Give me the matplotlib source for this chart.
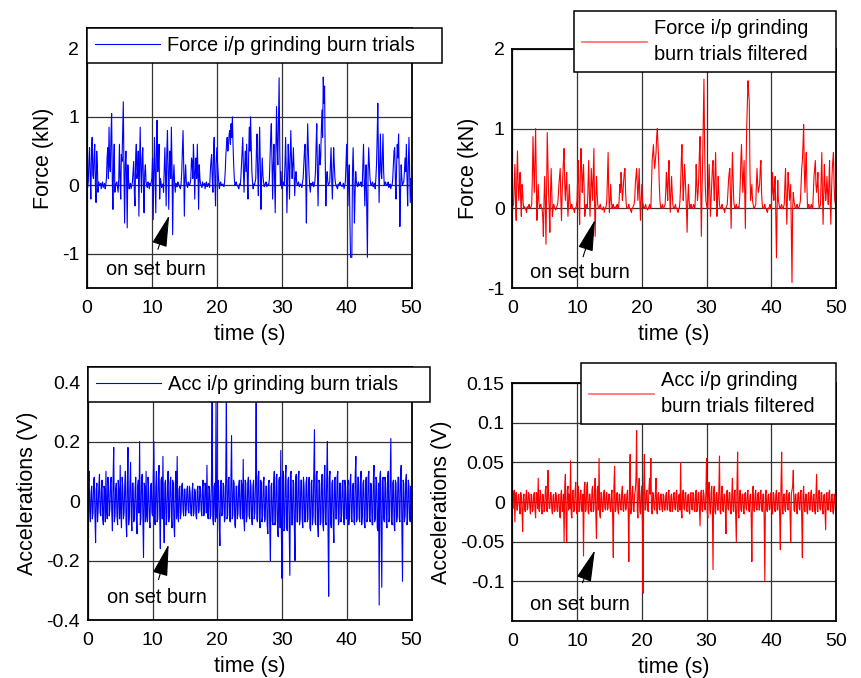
import numpy as np
import matplotlib
matplotlib.use("Agg")
import matplotlib.pyplot as plt

plt.rcParams['font.family'] = ['Liberation Sans', 'DejaVu Sans']
plt.rcParams['font.size'] = 14
plt.rcParams['axes.unicode_minus'] = False

# samples every 0.1 s over the 50 s trial (one row per second)
time = np.linspace(0, 50, 501)

force_raw = [
    0.0, -0.03, 0.05, 0.35, 0.55, 0.1, -0.2, 0.5, 0.7, 0.15,
    0.1, 0.45, 0.6, 0.0, -0.25, 0.5, 0.3, -0.1, 0.05, 0.0,
    0.0, 0.03, -0.05, 0.02, 0.05, -0.03, 0.0, 0.03, -0.05, 0.0,
    0.1, 0.4, 0.55, 0.1, 0.85, 0.3, 0.2, 0.75, 1.05, 0.1,
    -0.35, 0.3, 0.6, -0.1, 0.0, 0.03, 0.05, -0.02, -0.1, 0.1,
    0.6, 0.1, -0.2, 0.45, 0.35, 0.8, 1.22, 0.2, -0.55, 0.3,
    0.5, 0.1, -0.62, 0.3, 0.1, -0.05, 0.0, 0.03, -0.05, 0.0,
    0.05, 0.2, 0.35, -0.1, -0.3, 0.4, 0.6, 0.1, 0.2, 0.5,
    -0.45, 0.3, 0.85, 0.2, -0.1, 0.4, 0.55, 0.0, -0.4, 0.2,
    0.3, 0.05, 0.0, -0.03, 0.05, 0.02, -0.05, 0.03, 0.0, 0.05,
    0.1, 0.4, -0.5, 0.2, 0.7, 0.1, -0.4, 0.5, 0.95, 0.2,
    0.3, 0.6, -0.2, 0.1, 0.05, -0.03, 0.0, 0.02, -0.1, 0.2,
    0.55, 0.1, -0.3, 0.5, 0.8, 0.2, -0.35, 0.3, 0.5, 0.1,
    0.85, 0.3, -0.72, 0.1, 0.3, 0.05, -0.1, 0.03, 0.0, -0.02,
    0.05, 0.02, 0.0, -0.03, -0.05, 0.03, 0.2, 0.5, 0.8, 0.3,
    -0.45, 0.1, 0.3, 0.05, 0.0, -0.03, 0.05, 0.02, 0.0, 0.03,
    0.1, 0.4, 0.35, 0.1, 0.6, 0.3, -0.2, 0.2, 0.4, 0.1,
    0.6, 0.2, -0.35, 0.3, 0.1, 0.02, 0.0, -0.03, 0.05, 0.0,
    0.0, 0.03, -0.05, 0.02, 0.05, -0.02, 0.0, 0.03, 0.0, -0.03,
    0.2, 0.35, 0.45, 0.1, -0.1, 0.5, 0.7, 0.1, -0.3, 0.3,
    0.55, 0.35, 0.2, 0.05, -0.05, 0.03, 0.05, 0.0, 0.0, 0.02,
    0.0, -0.02, 0.05, 0.2, 0.45, 0.6, 0.7, 0.5, 0.6, 0.75,
    0.8, 0.6, 0.9, 0.7, 1.0, 0.6, 0.3, 0.1, 0.0, 0.03,
    0.05, 0.0, 0.0, -0.03, -0.05, 0.02, 0.0, 0.1, 0.3, 0.5,
    0.7, 0.2, -0.1, 0.3, 0.5, 0.2, 0.6, 0.1, -0.2, 0.4,
    0.85, 0.5, 1.0, 0.6, 0.2, 0.05, -0.05, 0.02, 0.0, 0.05,
    0.1, 0.5, 0.75, 0.2, -0.15, 0.4, 0.85, 0.3, -0.35, 0.1,
    0.4, 0.15, 0.05, -0.02, 0.0, 0.03, 0.05, -0.02, 0.0, 0.02,
    0.0, 0.1, 0.4, 0.7, 0.9, 0.3, -0.2, 0.3, 0.6, 0.1,
    -0.4, 0.5, 1.15, 0.6, 0.3, 0.9, 1.57, 0.5, 0.0, 0.2,
    -0.05, 0.0, 0.05, 0.02, 0.0, 0.3, 0.7, 0.2, -0.4, 0.1,
    0.6, 0.3, -0.2, 0.4, 0.8, 0.4, 0.1, 0.3, 0.55, 0.2,
    -0.15, 0.1, 0.2, 0.05, 0.0, 0.03, 0.05, -0.02, 0.0, 0.02,
    0.0, -0.03, 0.05, 0.1, 0.3, 0.5, 0.6, 0.1, -0.55, 0.4,
    0.9, 0.5, 0.2, 0.0, -0.1, 0.03, 0.0, 0.02, 0.05, -0.02,
    0.0, 0.05, 0.2, 0.6, 0.9, 0.2, -0.3, 0.3, 0.6, 0.3,
    0.4, 0.8, 1.1, 0.7, 1.58, 1.2, 1.45, 0.4, -0.3, 0.1,
    0.2, 0.05, 0.0, 0.03, 0.05, 0.3, 0.55, 0.1, -0.2, 0.2,
    0.55, 0.3, 0.1, 0.02, 0.0, -0.03, -0.05, 0.02, 0.0, 0.03,
    0.05, 0.0, 0.0, -0.02, 0.0, 0.03, -0.05, 0.0, 0.05, 0.3,
    0.6, 0.2, -0.3, 0.1, 0.3, -0.5, -1.05, -1.05, -1.05, 0.2,
    0.55, 0.1, -0.55, -0.1, 0.2, 0.05, 0.0, -0.02, 0.05, 0.0,
    0.0, 0.03, 0.05, -0.02, 0.0, 0.3, 0.6, 0.1, -0.3, 0.1,
    0.3, -0.4, -1.05, 0.2, 0.55, 0.3, 0.1, 0.02, 0.0, 0.03,
    0.05, -0.02, 0.0, 0.03, -0.05, 0.1, 0.3, 0.7, 1.2, 0.4,
    -0.25, 0.3, 0.75, 0.2, 0.1, 0.4, 0.75, 0.2, 0.0, 0.03,
    0.05, 0.0, 0.0, 0.02, 0.05, -0.03, 0.0, 0.02, -0.05, 0.0,
    0.0, 0.1, 0.3, 0.5, 0.55, 0.1, -0.2, 0.3, 0.6, 0.4,
    0.75, 0.2, -0.6, -0.1, 0.3, 0.1, 0.0, 0.03, 0.05, 0.2,
    0.4, 0.2, 0.6, 0.1, -0.3, 0.3, 0.7, 0.2, -0.25, 0.1,
    0.0,
]

force_filtered = [
    0.0, 0.03, 0.05, 0.3, 0.55, 0.1, -0.15, 0.4, 0.72, 0.3,
    0.1, 0.3, 0.45, 0.1, -0.1, 0.3, 0.2, 0.05, 0.0, 0.02,
    0.0, -0.02, -0.05, 0.02, 0.0, 0.03, 0.05, 0.0, 0.0, 0.02,
    0.05, 0.4, 0.9, 0.5, 0.2, 0.6, 1.0, 0.4, -0.15, 0.1,
    0.3, 0.1, 0.0, 0.03, 0.05, 0.0, 0.0, -0.1, -0.35, 0.1,
    0.4, 0.1, -0.45, 0.3, 0.95, 0.6, 0.2, 0.0, -0.3, 0.2,
    0.5, 0.2, -0.1, 0.0, 0.05, 0.02, 0.0, -0.02, 0.0, 0.03,
    0.05, 0.15, 0.3, 0.4, 0.5, 0.1, -0.15, 0.2, 0.4, 0.6,
    0.75, 0.3, 0.1, 0.3, 0.45, 0.1, -0.1, 0.1, 0.3, 0.1,
    0.0, 0.03, 0.05, 0.0, 0.0, -0.02, -0.05, 0.0, 0.0, 0.03,
    0.1, 0.4, 0.6, 0.1, -0.2, 0.4, 0.75, 0.5, 0.2, 0.4,
    0.55, 0.2, -0.1, 0.0, 0.05, 0.02, 0.0, 0.3, 0.6, 0.2,
    -0.1, 0.2, 0.5, 0.3, 0.1, 0.4, 0.75, 0.1, -0.35, 0.1,
    0.4, 0.2, 0.05, 0.0, 0.0, 0.03, 0.05, 0.0, 0.0, -0.02,
    0.0, 0.02, -0.05, 0.0, 0.0, 0.03, 0.1, 0.4, 0.7, 0.2,
    -0.05, 0.1, 0.3, 0.1, 0.0, 0.02, 0.05, 0.0, 0.0, 0.02,
    0.0, 0.03, 0.05, 0.0, 0.0, 0.1, 0.3, 0.2, 0.45, 0.3,
    0.1, 0.2, 0.35, 0.45, 0.5, 0.2, 0.05, 0.0, 0.0, 0.02,
    0.05, 0.0, 0.0, -0.03, -0.05, 0.0, 0.0, 0.03, 0.05, 0.1,
    0.3, 0.4, 0.5, 0.3, 0.1, 0.3, 0.5, 0.1, -0.15, 0.1,
    0.3, 0.1, 0.05, 0.0, 0.0, 0.03, 0.05, 0.0, 0.0, -0.02,
    0.0, 0.02, 0.05, 0.0, 0.0, 0.3, 0.6, 0.7, 0.8, 0.6,
    0.5, 0.6, 0.7, 0.9, 1.0, 0.8, 0.6, 0.3, 0.1, 0.02,
    0.0, 0.03, 0.05, 0.0, 0.0, 0.03, 0.05, 0.2, 0.45, 0.3,
    0.1, 0.4, 0.6, 0.2, -0.05, 0.2, 0.4, 0.2, 0.05, 0.0,
    0.0, 0.02, 0.05, 0.0, 0.0, -0.03, -0.05, 0.0, 0.0, 0.1,
    0.3, 0.6, 0.8, 0.4, 0.1, 0.3, 0.55, 0.4, 0.2, 0.0,
    -0.3, 0.1, 0.3, 0.1, 0.0, 0.02, 0.05, 0.0, 0.0, 0.02,
    0.05, 0.02, 0.0, 0.2, 0.55, 0.3, 0.1, 0.2, 0.4, 0.7,
    0.9, 0.3, -0.35, 0.2, 0.6, 1.1, 1.62, 0.8, 0.3, 0.1,
    0.05, 0.0, 0.0, 0.3, 0.55, 0.2, -0.1, 0.1, 0.3, 0.5,
    0.6, 0.3, 0.1, 0.4, 0.7, 0.3, -0.1, 0.1, 0.4, 0.2,
    0.05, 0.0, 0.0, 0.02, 0.05, 0.0, 0.0, -0.02, -0.05, 0.0,
    0.0, 0.03, 0.05, 0.2, 0.35, 0.45, 0.5, 0.1, -0.25, 0.3,
    0.7, 0.4, 0.1, 0.03, 0.0, 0.02, 0.05, 0.0, 0.0, 0.02,
    0.0, 0.1, 0.3, 0.6, 0.8, 0.5, 0.2, 0.4, 0.6, 0.2,
    -0.25, 0.5, 1.0, 1.3, 1.6, 1.45, 1.35, 0.5, 0.1, 0.2,
    0.3, 0.1, 0.05, 0.0, 0.0, 0.03, 0.05, 0.3, 0.5, 0.3,
    0.2, 0.25, 0.3, 0.5, 0.6, 0.2, 0.05, 0.0, 0.0, 0.02,
    0.05, 0.0, 0.0, -0.03, -0.05, 0.0, 0.0, 0.02, 0.05, 0.0,
    0.0, 0.2, 0.45, 0.2, 0.1, 0.3, 0.4, -0.1, -0.62, 0.0,
    0.35, 0.1, 0.05, 0.0, 0.0, 0.03, 0.05, 0.0, 0.0, 0.02,
    0.05, 0.3, 0.5, 0.1, -0.2, 0.2, 0.45, 0.3, 0.1, 0.2,
    0.3, -0.3, -0.93, 0.0, 0.2, 0.1, 0.05, 0.0, 0.0, 0.03,
    0.05, 0.0, 0.0, 0.02, 0.05, 0.1, 0.3, 0.5, 0.6, 0.8,
    1.05, 0.5, 0.2, 0.5, 0.7, 0.3, 0.0, 0.02, 0.05, 0.0,
    0.0, 0.03, 0.05, 0.0, 0.0, 0.2, 0.4, 0.5, 0.6, 0.3,
    0.2, 0.3, 0.45, 0.1, 0.0, 0.02, 0.05, 0.4, 0.7, 0.2,
    -0.2, 0.2, 0.55, 0.3, 0.1, 0.2, 0.4, 0.2, 0.05, 0.3,
    0.6, 0.1, -0.2, 0.2, 0.45, 0.6, 0.7, 0.3, 0.1, 0.05,
    0.0,
]

acc_raw = [
    0.0, 0.06, 0.1, -0.04, -0.07, 0.03, 0.05, -0.06, -0.04, 0.07,
    0.08, -0.05, -0.14, 0.04, 0.06, -0.07, -0.03, 0.05, 0.09, -0.04,
    -0.05, 0.04, 0.07, -0.06, -0.08, 0.05, 0.04, -0.07, 0.1, -0.03,
    -0.06, 0.08, 0.05, -0.05, -0.03, 0.06, 0.08, -0.04, -0.1, 0.07,
    0.18, -0.07, -0.05, 0.04, 0.06, -0.05, -0.08, 0.07, 0.03, -0.06,
    0.12, -0.04, -0.09, 0.08, 0.05, -0.06, -0.04, 0.05, 0.1, -0.07,
    -0.12, 0.06, 0.18, -0.08, -0.06, 0.05, 0.13, -0.04, -0.1, 0.06,
    0.06, -0.07, -0.05, 0.04, 0.08, -0.06, -0.11, 0.05, 0.07, -0.04,
    0.2, -0.08, -0.06, 0.07, 0.09, -0.05, -0.19, 0.06, 0.05, -0.07,
    0.1, -0.05, -0.07, 0.08, 0.04, -0.06, -0.09, 0.05, 0.06, -0.04,
    -0.05, 0.07, 0.2, -0.06, -0.08, 0.05, 0.1, -0.07, -0.06, 0.08,
    0.12, -0.05, -0.16, 0.07, 0.08, -0.06, 0.15, -0.05, -0.14, 0.06,
    0.07, -0.08, -0.06, 0.05, 0.1, -0.07, -0.05, 0.06, 0.08, -0.05,
    -0.09, 0.07, 0.06, -0.08, -0.12, 0.05, 0.1, -0.06, 0.15, -0.05,
    -0.07, 0.04, 0.05, -0.06, -0.04, 0.05, 0.06, -0.03, -0.05, 0.04,
    0.04, -0.05, -0.03, 0.04, 0.05, -0.03, -0.04, 0.05, 0.03, -0.04,
    -0.05, 0.03, 0.06, -0.05, -0.04, 0.04, 0.03, -0.05, -0.06, 0.04,
    0.05, -0.04, -0.03, 0.05, 0.04, -0.03, -0.05, 0.04, 0.07, -0.05,
    -0.04, 0.06, 0.05, -0.04, 0.12, -0.05, -0.06, 0.05, 0.04, -0.06,
    -0.05, 0.08, 0.35, -0.06, -0.08, 0.05, 0.06, -0.07, 0.33, -0.05,
    -0.06, 0.07, 0.05, -0.08, -0.15, 0.06, 0.07, -0.05, -0.04, 0.06,
    0.05, -0.07, -0.06, 0.08, 0.33, -0.06, -0.05, 0.07, 0.08, -0.06,
    -0.07, 0.08, 0.22, -0.06, -0.05, 0.07, 0.06, -0.08, -0.09, 0.05,
    0.05, -0.06, -0.04, 0.05, 0.07, -0.05, -0.06, 0.07, 0.05, -0.06,
    0.14, -0.06, -0.1, 0.07, 0.06, -0.07, -0.05, 0.06, 0.08, -0.05,
    -0.06, 0.07, 0.05, -0.06, -0.08, 0.05, 0.07, -0.06, -0.04, 0.06,
    0.33, -0.06, -0.07, 0.08, 0.1, -0.06, -0.09, 0.07, 0.06, -0.07,
    -0.05, 0.06, 0.08, -0.07, -0.06, 0.05, 0.05, -0.08, -0.11, 0.06,
    0.07, -0.09, -0.2, 0.05, 0.06, -0.07, -0.08, 0.06, 0.1, -0.08,
    -0.07, 0.08, 0.09, -0.1, -0.12, 0.07, 0.08, -0.09, 0.17, -0.12,
    -0.26, 0.08, 0.1, -0.1, -0.09, 0.08, 0.12, -0.09, -0.1, 0.07,
    0.08, -0.1, -0.25, 0.09, 0.1, -0.08, -0.08, 0.07, 0.06, -0.09,
    -0.2, 0.08, 0.09, -0.07, -0.07, 0.08, 0.1, -0.08, -0.06, 0.07,
    0.07, -0.06, -0.09, 0.08, 0.05, -0.07, -0.07, 0.06, 0.08, -0.07,
    -0.06, 0.07, 0.08, -0.09, -0.1, 0.06, 0.07, -0.08, -0.05, 0.09,
    0.24, -0.07, -0.08, 0.09, 0.1, -0.08, -0.12, 0.07, 0.06, -0.08,
    -0.07, 0.08, 0.09, -0.08, -0.1, 0.07, 0.12, -0.07, -0.08, 0.09,
    0.2, -0.1, -0.32, 0.08, 0.1, -0.07, -0.09, 0.06, 0.07, -0.08,
    -0.14, 0.07, 0.08, -0.06, -0.06, 0.08, 0.1, -0.08, -0.07, 0.06,
    0.06, -0.07, -0.05, 0.06, 0.07, -0.06, -0.08, 0.07, 0.05, -0.06,
    -0.06, 0.05, 0.07, -0.08, -0.05, 0.06, 0.09, -0.06, -0.07, 0.05,
    0.06, -0.07, -0.08, 0.09, 0.15, -0.07, -0.06, 0.08, 0.08, -0.06,
    -0.07, 0.06, 0.1, -0.08, -0.05, 0.06, 0.07, -0.07, -0.09, 0.06,
    0.08, -0.07, -0.06, 0.08, 0.1, -0.06, -0.07, 0.06, 0.05, -0.08,
    -0.08, 0.07, 0.12, -0.07, -0.06, 0.08, 0.07, -0.09, -0.1, 0.06,
    -0.35, 0.08, 0.1, -0.1, -0.29, 0.07, 0.08, -0.06, -0.07, 0.08,
    0.06, -0.07, -0.09, 0.08, 0.1, -0.07, -0.06, 0.08, 0.21, -0.07,
    -0.08, 0.06, 0.07, -0.08, -0.1, 0.07, 0.06, -0.07, -0.05, 0.08,
    0.08, -0.06, -0.07, 0.09, 0.12, -0.08, -0.27, 0.07, 0.06, -0.07,
    -0.05, 0.07, 0.09, -0.08, -0.06, 0.07, 0.05, -0.06, -0.07, 0.05,
    0.0,
]

acc_filtered = [
    0.0, -0.008, 0.01, 0.015, -0.025, 0.005, 0.012, -0.01, -0.01, 0.008,
    0.01, -0.005, -0.015, 0.012, 0.008, -0.01, -0.037, 0.005, 0.01, -0.008,
    -0.012, 0.008, 0.015, -0.01, -0.008, 0.012, 0.01, -0.006, -0.015, 0.01,
    0.008, -0.012, -0.01, 0.008, 0.012, -0.01, -0.02, 0.012, 0.01, -0.008,
    0.03, -0.01, -0.012, 0.015, 0.01, -0.008, -0.015, 0.01, 0.008, -0.012,
    -0.01, 0.015, 0.02, -0.01, -0.012, 0.04, 0.01, -0.008, -0.008, 0.012,
    0.012, -0.01, -0.015, 0.008, 0.01, -0.012, -0.01, 0.012, 0.008, -0.01,
    -0.012, 0.008, 0.01, -0.015, -0.02, 0.01, 0.015, -0.012, -0.01, 0.01,
    -0.05, 0.02, 0.035, -0.02, -0.05, 0.015, 0.02, -0.01, 0.01, -0.008,
    0.052, -0.015, -0.02, 0.012, 0.015, -0.012, -0.01, 0.015, 0.025, -0.01,
    -0.015, 0.01, 0.02, -0.012, -0.01, 0.012, 0.015, -0.01, -0.012, 0.01,
    -0.068, 0.015, 0.025, -0.012, -0.01, 0.02, 0.025, -0.012, -0.015, 0.01,
    0.01, -0.01, -0.012, 0.015, 0.02, -0.012, -0.01, 0.015, 0.03, -0.015,
    -0.046, 0.015, 0.02, -0.01, 0.055, -0.015, -0.02, 0.012, 0.01, -0.01,
    -0.012, 0.01, 0.015, -0.008, -0.01, 0.01, 0.012, -0.01, -0.008, 0.01,
    0.01, -0.008, -0.012, 0.01, 0.015, -0.02, -0.07, 0.02, 0.045, -0.012,
    -0.01, 0.008, 0.012, -0.01, -0.015, 0.01, 0.01, -0.008, -0.01, 0.012,
    0.02, -0.01, -0.012, 0.008, 0.01, -0.01, -0.008, 0.01, 0.015, -0.012,
    -0.075, 0.02, 0.06, -0.015, -0.01, 0.012, 0.02, -0.01, -0.012, 0.01,
    0.015, 0.03, 0.09, -0.01, -0.02, 0.015, 0.03, -0.012, -0.015, 0.012,
    0.02, -0.03, -0.115, 0.02, 0.06, -0.01, -0.01, 0.012, 0.015, -0.01,
    -0.012, 0.015, 0.03, 0.01, 0.055, -0.01, -0.015, 0.012, 0.01, -0.008,
    -0.01, 0.012, 0.03, -0.01, -0.015, 0.01, 0.012, -0.008, -0.01, 0.01,
    0.01, -0.008, -0.012, 0.01, 0.008, -0.01, -0.01, 0.008, 0.012, -0.01,
    -0.01, 0.012, 0.015, -0.01, -0.012, 0.008, 0.01, -0.012, -0.008, 0.01,
    0.012, -0.008, -0.01, 0.012, 0.015, -0.01, -0.012, 0.008, 0.01, -0.01,
    0.05, -0.012, -0.02, 0.01, 0.015, -0.008, -0.01, 0.012, 0.012, -0.01,
    -0.012, 0.008, 0.01, -0.012, -0.015, 0.01, 0.012, -0.008, -0.01, 0.012,
    0.01, -0.01, -0.012, 0.01, 0.015, -0.012, -0.01, 0.01, 0.012, -0.01,
    -0.03, 0.01, 0.015, -0.01, -0.012, 0.015, 0.01, -0.008, -0.01, 0.012,
    0.055, -0.012, -0.02, 0.015, 0.025, -0.01, -0.015, 0.012, 0.02, -0.012,
    -0.085, 0.015, 0.02, -0.012, -0.015, 0.01, 0.012, -0.01, -0.01, 0.015,
    0.058, -0.012, -0.015, 0.01, 0.02, -0.01, -0.012, 0.01, 0.01, -0.01,
    -0.04, 0.012, 0.015, -0.008, -0.01, 0.012, 0.012, -0.01, -0.015, 0.01,
    0.03, -0.01, -0.012, 0.012, 0.015, -0.02, -0.05, 0.02, 0.063, -0.012,
    -0.02, 0.012, 0.015, -0.01, -0.012, 0.01, 0.01, -0.012, -0.015, 0.01,
    0.012, -0.008, -0.01, 0.012, 0.015, -0.01, -0.012, 0.008, 0.01, -0.02,
    -0.075, 0.015, 0.02, -0.01, -0.012, 0.01, 0.015, -0.008, -0.01, 0.01,
    0.012, -0.01, -0.01, 0.012, 0.015, -0.008, -0.012, 0.01, 0.01, -0.02,
    -0.1, 0.01, 0.015, -0.01, -0.012, 0.008, 0.01, -0.01, -0.008, 0.01,
    0.012, -0.01, -0.015, 0.012, 0.01, -0.008, -0.012, 0.01, 0.015, -0.01,
    -0.01, 0.01, 0.012, -0.02, -0.06, 0.02, 0.063, -0.01, -0.015, 0.01,
    0.01, -0.01, -0.012, 0.01, 0.015, -0.008, -0.01, 0.01, 0.012, -0.015,
    -0.05, 0.01, 0.015, 0.02, 0.04, -0.01, -0.012, 0.01, 0.01, -0.01,
    -0.015, 0.01, 0.012, -0.008, -0.01, 0.012, 0.015, -0.02, -0.07, 0.01,
    0.02, -0.01, -0.012, 0.01, 0.01, -0.012, -0.015, 0.01, 0.012, -0.01,
    -0.01, 0.012, 0.015, -0.01, -0.012, 0.008, 0.01, -0.01, -0.015, 0.012,
    0.035, -0.01, -0.012, 0.01, 0.015, -0.008, -0.01, 0.012, 0.012, -0.01,
    -0.015, 0.008, 0.01, -0.012, -0.035, 0.01, 0.012, -0.01, -0.01, 0.012,
    0.015, -0.01, -0.012, 0.008, 0.01, -0.012, -0.015, 0.01, 0.008, -0.01,
    0.0,
]

force_ticks = [-1, 0, 1, 2]
acc_raw_ticks = [-0.4, -0.2, 0, 0.2, 0.4]
acc_filt_ticks = [-0.1, -0.05, 0, 0.05, 0.1, 0.15]

fig = plt.figure(figsize=(8.61, 6.78), dpi=100)
ax1 = fig.add_axes([0.101, 0.575, 0.377, 0.384])
ax2 = fig.add_axes([0.595, 0.575, 0.376, 0.353])
ax3 = fig.add_axes([0.102, 0.0855, 0.376, 0.373])
ax4 = fig.add_axes([0.595, 0.084, 0.376, 0.351])


def style(ax, yticks, ylim, ylabel):
    ax.set_xlim(0, 50)
    ax.set_ylim(*ylim)
    ax.set_xticks([0, 10, 20, 30, 40, 50])
    ax.set_yticks(yticks)
    ax.set_yticklabels(['%g' % v for v in yticks])
    ax.grid(True, color='#333333', lw=0.9)
    ax.tick_params(length=0, labelsize=14)
    ax.tick_params(axis='x', pad=8.5)
    ax.tick_params(axis='y', pad=5.5)
    for s in ax.spines.values():
        s.set_linewidth(1.3)
    ax.set_xlabel('time (s)', fontsize=15.5, labelpad=5)
    ax.set_ylabel(ylabel, fontsize=15.5, labelpad=6)


def burn_arrow(ax, tip, tail, txt):
    ax.annotate('', xy=tip, xytext=tail,
                arrowprops=dict(arrowstyle='-|>,head_length=1.0,head_width=0.24',
                                color='k', lw=0.8, mutation_scale=20))
    ax.text(txt[0], txt[1], 'on set burn', fontsize=14.4, va='center', ha='left')


def add_legend(ax, box, pale=False):
    # box is (x0, top, width) in axes fraction
    leg = ax.legend(loc='upper left', bbox_to_anchor=(box[0], box[1], box[2], 0),
                    mode='expand', borderaxespad=0, fontsize=14.4,
                    fancybox=False, framealpha=1, edgecolor='k',
                    handlelength=3.25, handletextpad=0.35, borderpad=0.4)
    leg.get_frame().set_linewidth(1.1)
    for t in leg.get_texts():
        t.set_linespacing(1.45)
    if pale:
        leg.get_lines()[0].set_color('#ff6a6a')
        leg.get_lines()[0].set_linewidth(1.2)


ax1.plot(time, force_raw, color='b', lw=0.8, label='Force i/p grinding burn trials')
style(ax1, force_ticks, (-1.5, 2.3), 'Force (kN)')
add_legend(ax1, (0, 1, 1.095))
burn_arrow(ax1, (12.8, -0.4), (10.8, -0.97), (3.0, -1.23))

ax2.plot(time, force_filtered, color='r', lw=0.8,
         label='Force i/p grinding\nburn trials filtered')
style(ax2, force_ticks, (-1, 2), 'Force (kN)')
add_legend(ax2, (0.19, 1.159, 0.81), pale=True)
burn_arrow(ax2, (12.9, -0.11), (10.8, -0.64), (2.8, -0.81))

ax3.plot(time, acc_raw, color='b', lw=0.8, label='Acc i/p grinding burn trials')
style(ax3, acc_raw_ticks, (-0.4, 0.45), 'Accelerations (V)')
add_legend(ax3, (0, 1, 1.056))
burn_arrow(ax3, (12.6, -0.137), (10.8, -0.273), (2.9, -0.323))

ax4.plot(time, acc_filtered, color='r', lw=0.8,
         label='Acc i/p grinding\nburn trials filtered')
style(ax4, acc_filt_ticks, (-0.15, 0.15), 'Accelerations (V)')
add_legend(ax4, (0.213, 1.084, 0.787), pale=True)
burn_arrow(ax4, (12.9, -0.0575), (10.7, -0.105), (2.8, -0.129))

fig.savefig('out.png', dpi=100)
